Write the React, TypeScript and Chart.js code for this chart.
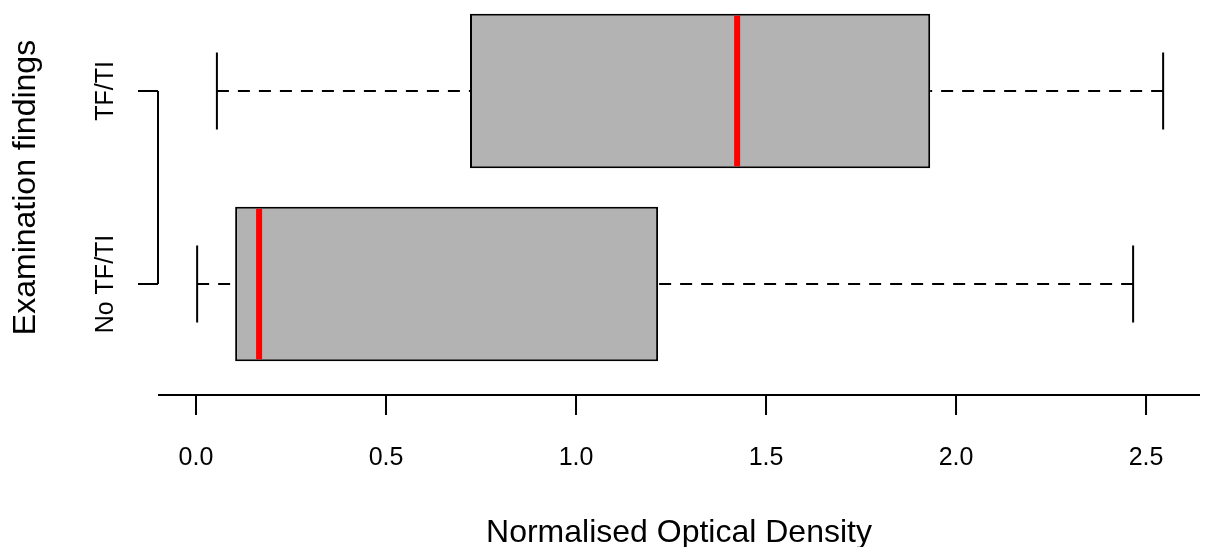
import React, { useEffect, useRef } from "react";
import { Chart, registerables } from "chart.js";

Chart.register(...registerables);

// ---- data ----
const categories = ["No TF/TI", "TF/TI"];
const positions = [1, 2];
const whiskerLow = [0.003, 0.055];
const q1 = [0.103, 0.721];
const median = [0.166, 1.424];
const q3 = [1.216, 1.932];
const whiskerHigh = [2.466, 2.545];
const xTicks = [0, 0.5, 1, 1.5, 2, 2.5];
const xTitle = "Normalised Optical Density";
const yTitle = "Examination findings";

const FONT = '"Liberation Sans", Arial, Helvetica, sans-serif';

const boxPlugin = {
  id: "rBoxplot",
  afterDatasetsDraw(chart: any) {
    const { ctx } = chart;
    const xs = chart.scales.x;
    const meta = chart.getDatasetMeta(0);
    meta.data.forEach((bar: any, i: number) => {
      const { y: cy, height } = bar.getProps(["y", "height"], true);
      const h = Math.abs(height);
      const top = cy - h / 2;
      const bottom = cy + h / 2;
      const pLow = xs.getPixelForValue(whiskerLow[i]);
      const pQ1 = xs.getPixelForValue(q1[i]);
      const pMed = xs.getPixelForValue(median[i]);
      const pQ3 = xs.getPixelForValue(q3[i]);
      const pHigh = xs.getPixelForValue(whiskerHigh[i]);
      ctx.save();
      ctx.strokeStyle = "#000";
      ctx.lineWidth = 2;
      ctx.setLineDash([12, 9]);
      ctx.beginPath();
      ctx.moveTo(pLow, cy);
      ctx.lineTo(pQ1, cy);
      ctx.moveTo(pHigh, cy);
      ctx.lineTo(pQ3, cy);
      ctx.stroke();
      ctx.setLineDash([]);
      ctx.beginPath();
      ctx.moveTo(pLow, cy - h / 4);
      ctx.lineTo(pLow, cy + h / 4);
      ctx.moveTo(pHigh, cy - h / 4);
      ctx.lineTo(pHigh, cy + h / 4);
      ctx.stroke();
      ctx.strokeStyle = "#FF0000";
      ctx.lineWidth = 6;
      ctx.beginPath();
      ctx.moveTo(pMed, top + 2);
      ctx.lineTo(pMed, bottom - 2);
      ctx.stroke();
      ctx.restore();
    });
  },
  afterDraw(chart: any) {
    const { ctx, chartArea } = chart;
    const xs = chart.scales.x;
    const ys = chart.scales.y;
    ctx.save();
    ctx.strokeStyle = "#000";
    ctx.fillStyle = "#000";
    ctx.lineWidth = 2;
    // x axis
    const axY = chartArea.bottom;
    ctx.beginPath();
    ctx.moveTo(chartArea.left, axY);
    ctx.lineTo(chartArea.right, axY);
    xTicks.forEach((v) => {
      const px = xs.getPixelForValue(v);
      ctx.moveTo(px, axY);
      ctx.lineTo(px, axY + 20);
    });
    ctx.stroke();
    ctx.font = `25px ${FONT}`;
    ctx.textAlign = "center";
    ctx.textBaseline = "alphabetic";
    xTicks.forEach((v) => {
      ctx.fillText(v.toFixed(1), xs.getPixelForValue(v), axY + 70);
    });
    ctx.font = `32px ${FONT}`;
    ctx.fillText(xTitle, (chartArea.left + chartArea.right) / 2, axY + 147);

    // y axis bracket
    const axX = chartArea.left;
    const yTop = ys.getPixelForValue(positions[positions.length - 1]);
    const yBot = ys.getPixelForValue(positions[0]);
    ctx.beginPath();
    ctx.moveTo(axX, yTop);
    ctx.lineTo(axX, yBot);
    positions.forEach((p) => {
      const py = ys.getPixelForValue(p);
      ctx.moveTo(axX, py);
      ctx.lineTo(axX - 20, py);
    });
    ctx.stroke();
    ctx.font = `25px ${FONT}`;
    positions.forEach((p, i) => {
      const py = ys.getPixelForValue(p);
      ctx.save();
      ctx.translate(axX - 45, py);
      ctx.rotate(-Math.PI / 2);
      ctx.fillText(categories[i], 0, 0);
      ctx.restore();
    });
    const yMid = (ys.getPixelForValue(0.5) + ys.getPixelForValue(2.5)) / 2;
    ctx.font = `32px ${FONT}`;
    ctx.save();
    ctx.translate(35, yMid);
    ctx.rotate(-Math.PI / 2);
    ctx.fillText(yTitle, 0, 0);
    ctx.restore();
    ctx.restore();
  },
};

export default function App() {
  const ref = useRef<HTMLCanvasElement | null>(null);
  useEffect(() => {
    if (!ref.current) return;
    const chart = new Chart(ref.current, {
      type: "bar",
      data: {
        datasets: [
          {
            data: positions.map((p, i) => ({ x: [q1[i], q3[i]], y: p })) as any,
            backgroundColor: "#B3B3B3",
            borderColor: "#000000",
            borderWidth: 2,
            borderSkipped: false,
            barPercentage: 1.0,
            categoryPercentage: 0.8,
          },
        ],
      },
      plugins: [boxPlugin],
      options: {
        indexAxis: "y",
        animation: false,
        responsive: false,
        maintainAspectRatio: false,
        layout: { padding: { left: 158, right: 8, top: 0, bottom: 152 } },
        plugins: { legend: { display: false }, tooltip: { enabled: false } },
        scales: {
          x: { type: "linear", min: -0.1, max: 2.642, display: false },
          y: {
            type: "linear",
            min: 0.4249,
            max: 2.4715,
            offset: false,
            display: false,
            afterBuildTicks: (axis: any) => {
              axis.ticks = positions.map((v) => ({ value: v }));
            },
          },
        },
      },
    } as any);
    return () => chart.destroy();
  }, []);
  return (
    <div style={{ position: "absolute", left: 0, top: 0, width: 1208, height: 547, background: "#fff" }}>
      <canvas ref={ref} width={1208} height={547} />
    </div>
  );
}
